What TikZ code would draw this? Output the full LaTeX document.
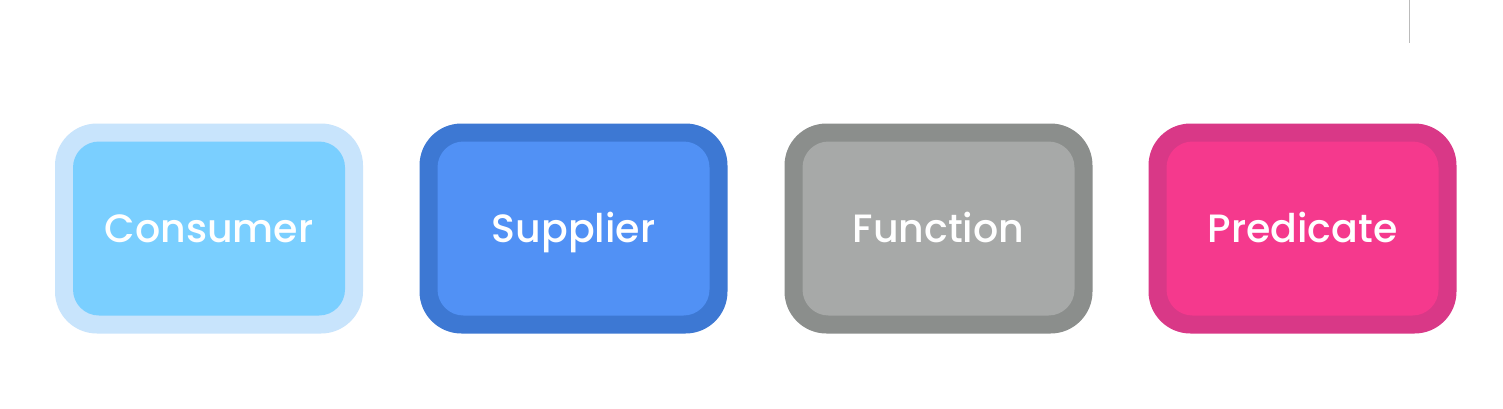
\documentclass[tikz,border=0pt]{standalone}
\usepackage{fontspec}
\setmainfont{Poppins Medium}
\definecolor{consO}{HTML}{C8E4FC}
\definecolor{consI}{HTML}{7ACFFF}
\definecolor{supO}{HTML}{3D78D3}
\definecolor{supI}{HTML}{5191F5}
\definecolor{funO}{HTML}{8B8E8C}
\definecolor{funI}{HTML}{A7A9A8}
\definecolor{preO}{HTML}{D93887}
\definecolor{preI}{HTML}{F5398D}
\definecolor{lineg}{HTML}{BBBBBB}
\tikzset{
  outerbox/.style={draw=none, rounded corners=42pt, minimum width=308pt, minimum height=210pt, inner sep=0pt},
  innerbox/.style={draw=none, rounded corners=26pt, minimum width=272pt, minimum height=174pt, inner sep=0pt,
    text=white, font=\fontsize{39.5}{42}\selectfont, text height=27pt, text depth=0pt},
}
\begin{document}
\begin{tikzpicture}[x=1pt,y=-1pt]
\useasboundingbox[fill=white] (0,0) rectangle (1503,408);
\node[outerbox, fill=consO] (co) at (209,228.5) {};
\node[innerbox, fill=consI] (ci) at (co.center) {Consumer};
\node[outerbox, fill=supO] (so) at (573.5,228.5) {};
\node[innerbox, fill=supI] (si) at (so.center) {Supplier};
\node[outerbox, fill=funO] (fo) at (938.5,228.5) {};
\node[innerbox, fill=funI] (fi) at (fo.center) {Function};
\node[outerbox, fill=preO] (po) at (1302.5,228.5) {};
\node[innerbox, fill=preI] (pi) at (po.center) {Predicate};
\coordinate (lt) at (1409.5,0);
\coordinate (lb) at (1409.5,43);
\draw[lineg, line width=1.2pt] (lt) -- (lb);
\end{tikzpicture}
\end{document}
